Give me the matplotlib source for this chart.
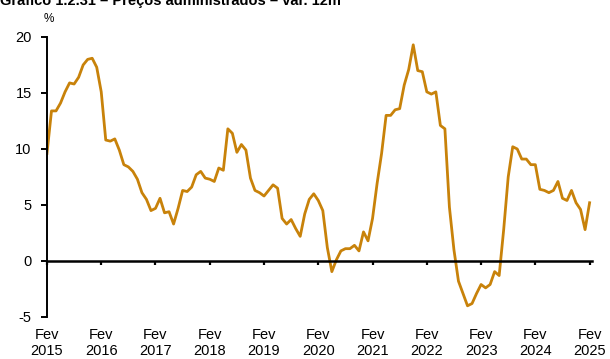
import matplotlib
matplotlib.use("Agg")
import matplotlib.pyplot as plt
import matplotlib.transforms as mtransforms
import numpy as np

plt.rcParams['font.family'] = ['Liberation Sans', 'DejaVu Sans']
plt.rcParams['axes.unicode_minus'] = False

# variação em 12 meses, mensal de fev/2015 a fev/2025
valores = [
    9.6, 13.4, 13.4, 14.1, 15.1, 15.9, 15.8, 16.4, 17.5, 18.0, 18.1, 17.3,
    15.1, 10.8, 10.7, 10.9, 9.9, 8.6, 8.4, 8.0, 7.3, 6.1, 5.5, 4.5,
    4.7, 5.6, 4.3, 4.4, 3.3, 4.7, 6.3, 6.2, 6.6, 7.7, 8.0, 7.4,
    7.3, 7.1, 8.3, 8.1, 11.8, 11.4, 9.7, 10.4, 9.9, 7.4, 6.3, 6.1,
    5.8, 6.3, 6.8, 6.5, 3.8, 3.3, 3.7, 2.9, 2.2, 4.2, 5.5, 6.0,
    5.4, 4.5, 1.2, -0.95, 0.1, 0.9, 1.1, 1.1, 1.4, 0.9, 2.6, 1.8,
    3.8, 6.9, 9.6, 13.0, 13.0, 13.5, 13.6, 15.7, 17.1, 19.3, 17.0, 16.9,
    15.1, 14.9, 15.1, 12.1, 11.8, 4.8, 1.0, -1.8, -2.9, -4.0, -3.8, -2.9,
    -2.1, -2.4, -2.1, -0.95, -1.3, 2.8, 7.5, 10.2, 10.0, 9.1, 9.1, 8.6,
    8.6, 6.4, 6.3, 6.1, 6.3, 7.1, 5.6, 5.4, 6.3, 5.2, 4.6, 2.8,
    5.2,
]
anos = list(range(2015, 2026))
rotulos_x = [f"Fev\n{a}" for a in anos]

meses = np.arange(len(valores))
ticks_x = [12 * i for i in range(len(anos))]

fig = plt.figure(figsize=(6.10, 3.59), dpi=100)
ax = fig.add_axes([0.077, 0.117, 0.894, 0.780])

ax.plot(meses, valores, color='#C8820A', linewidth=2.0, solid_joinstyle='round')

ax.set_xlim(0, 120.6)
ax.set_ylim(-5, 20)
ax.set_yticks([-5, 0, 5, 10, 15, 20])
ax.set_xticks(ticks_x)
ax.set_xticklabels([])

for s in ['top', 'right']:
    ax.spines[s].set_visible(False)
ax.spines['bottom'].set_position(('data', 0))
ax.spines['bottom'].set_linewidth(1.8)
ax.spines['left'].set_linewidth(1.4)
ax.spines['left'].set_bounds(-5, 20)

ax.tick_params(axis='y', direction='out', length=4, width=1.4, pad=7, labelsize=10.5)
ax.tick_params(axis='x', direction='out', length=3, width=1.6)

# rótulos do eixo x ficam abaixo do gráfico, não na linha do zero
trans = mtransforms.blended_transform_factory(ax.transData, ax.transAxes)
for x, rot in zip(ticks_x, rotulos_x):
    ax.text(x, -0.04, rot, transform=trans, ha='center', va='top',
            fontsize=10.5, linespacing=1.2)

fig.text(0.08, 0.93, '%', ha='center', va='bottom', fontsize=8.5)
fig.text(0.0, 1 - 5 / 359, 'Gráfico 1.2.31 – Preços administrados – var. 12m',
         ha='left', va='baseline', fontsize=10.5, fontweight='bold')

fig.savefig('out.png', dpi=100)
